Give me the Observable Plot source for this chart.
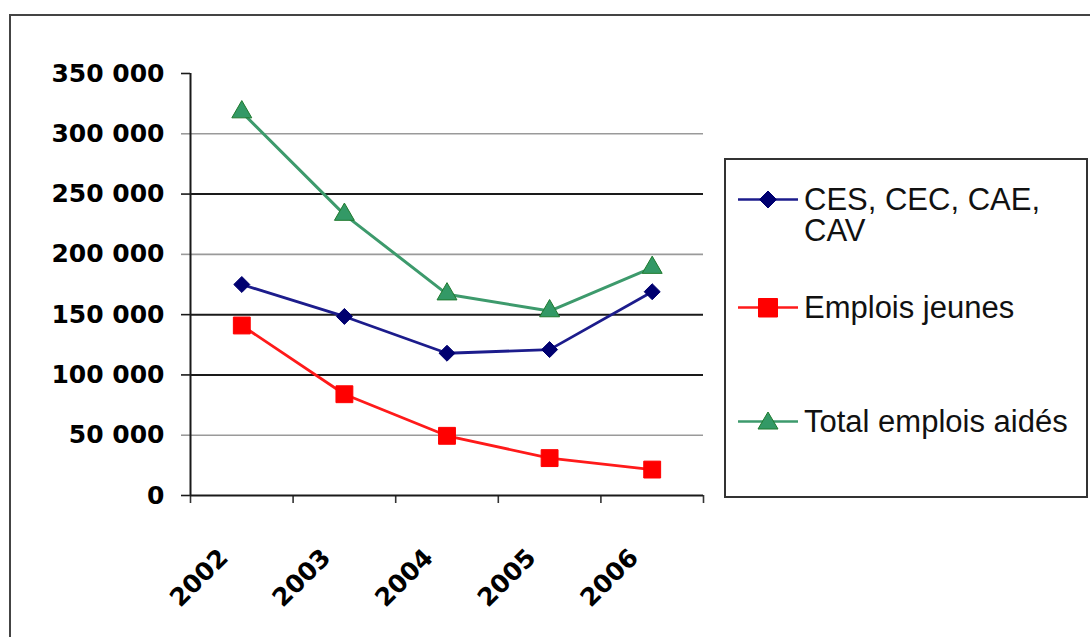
<!DOCTYPE html>
<html><head><meta charset="utf-8">
<script src="https://cdn.jsdelivr.net/npm/d3@7"></script>
<script src="https://cdn.jsdelivr.net/npm/@observablehq/plot@0.6"></script>
<style>
body{margin:0;background:#fff;width:1090px;height:637px;overflow:hidden;position:relative;font-family:"Liberation Sans",Arial,sans-serif}
#frame{position:absolute;left:9px;top:14px;width:1100px;height:700px;border:2px solid #444;}
#chart{position:absolute;left:0;top:0}
#legend{position:absolute;left:724px;top:158px;width:360px;height:336px;border:2px solid #333;background:#fff}
.item{position:absolute;left:11px;display:flex;align-items:flex-start;font-size:31px;color:#111;line-height:31px}
.item span{display:block;width:280px;margin-left:5px}
</style></head><body>
<div id="frame"></div>
<div id="chart"></div>
<div id="legend"></div>
<script>
const years = ["2002", "2003", "2004", "2005", "2006"];
const cesCecCaeCav = [175000, 148500, 118000, 121000, 169000];
const emploisJeunes = [141000, 84000, 49500, 31000, 21500];
const totalEmploisAides = [318000, 233000, 167000, 153000, 189000];
const seriesNames = ["CES, CEC, CAE, CAV", "Emplois jeunes", "Total emplois aidés"];
const yTicks = [0, 50000, 100000, 150000, 200000, 250000, 300000, 350000];

const styles = [
  {line: "#1c1c8c", fill: "#000070", stroke: "#000070", symbol: "diamond2", r: 7.2, lw: 2.8},
  {line: "#ff1a1a", fill: "#ff0000", stroke: "#ff0000", symbol: "square", r: 5.6, lw: 2.8},
  {line: "#3d9a6c", fill: "#339966", stroke: "#1f7a2e", symbol: "triangle", r: 7.4, lw: 3}
];
const allSeries = [cesCecCaeCav, emploisJeunes, totalEmploisAides];
const rows = allSeries.map((vals, s) => years.map((yr, i) => ({s, year: yr, pos: i + 0.5, value: vals[i]})));
const boundaries = d3.range(years.length + 1);
const darkGrid = new Set([150000, 100000, 250000]);
const fmt = d => d3.format(",")(d).replace(/,/g, " ");

const marks = [
  Plot.ruleY(yTicks.filter(d => d > 0 && d < 350000), {x1: () => 0, x2: () => years.length, stroke: d => darkGrid.has(d) ? "#1a1a1a" : "#9a9a9a", strokeWidth: d => darkGrid.has(d) ? 2 : 1.6}),
  Plot.axisY(yTicks, {label: null, tickSize: 9, tickPadding: 17, tickFormat: fmt, fontSize: 25, fontWeight: "bold", fontFamily: "DejaVu Sans", stroke: d => darkGrid.has(d) || d === 0 || d === 350000 ? "#1a1a1a" : "#9a9a9a", strokeWidth: 1.6, fill: "#000"}),
  Plot.axisX(boundaries, {label: null, tickSize: 8, tickFormat: () => "", stroke: "#333", strokeWidth: 1.6}),
  Plot.ruleX([0], {y1: () => 0, y2: () => 350000, stroke: "#1a1a1a", strokeWidth: 2}),
  Plot.ruleY([0], {x1: () => 0, x2: () => years.length, stroke: "#1a1a1a", strokeWidth: 2}),
  Plot.text(years, {x: (d, i) => i + 0.5, y: () => 0, text: d => d, rotate: -45, textAnchor: "end", lineAnchor: "middle", dx: -18, dy: 58, fontSize: 25, fontWeight: "bold", fontFamily: "DejaVu Sans", fill: "#000"})
];
rows.forEach((data, s) => {
  const st = styles[s];
  marks.push(Plot.line(data, {x: "pos", y: "value", stroke: st.line, strokeWidth: st.lw}));
});
rows.forEach((data, s) => {
  const st = styles[s];
  marks.push(Plot.dot(data, {x: "pos", y: "value", symbol: () => st.symbol, r: st.r * (st.symbol === "square" ? 1.7 : 1), fill: st.fill, stroke: st.stroke, strokeWidth: 1}));
});

const chart = Plot.plot({
  width: 1090, height: 637,
  marginLeft: 190, marginRight: 387, marginTop: 73, marginBottom: 142,
  x: {domain: [0, years.length], label: null},
  y: {domain: [0, 350000], label: null},
  color: {type: "identity"},
  style: {background: "transparent", overflow: "visible"},
  marks
});
document.getElementById("chart").appendChild(chart);

// legend
const legend = document.getElementById("legend");
const tops = [24, 132, 246];
const symPath = {
  diamond2: "M31,7 L39.5,15.5 L31,24 L22.5,15.5 Z",
  square: "M21.5,6.5 L40.5,6.5 L40.5,25 L21.5,25 Z",
  triangle: "M31,6 L41,23 L21,23 Z"
};
seriesNames.forEach((name, s) => {
  const st = styles[s];
  const div = document.createElement("div");
  div.className = "item";
  div.style.top = tops[s] + "px";
  div.innerHTML = `<svg width="62" height="31" style="flex:none"><line x1="1" x2="61" y1="15.5" y2="15.5" stroke="${st.line}" stroke-width="2.6"/><path d="${symPath[st.symbol]}" fill="${st.fill}" stroke="${st.stroke}" stroke-width="1"/></svg><span>${name}</span>`;
  legend.appendChild(div);
});
</script>
</body></html>
